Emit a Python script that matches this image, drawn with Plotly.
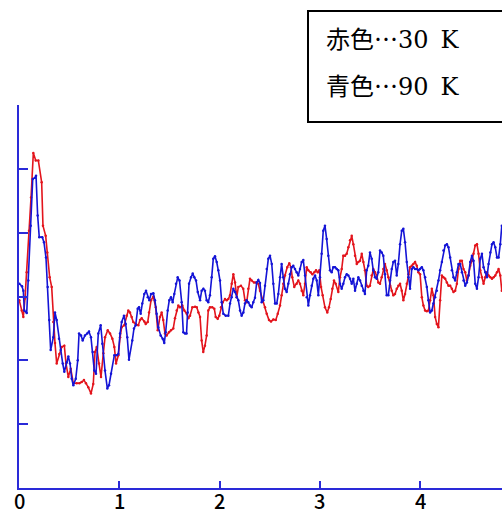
import plotly.graph_objects as go

# ---- data ----
red_x = [0.003,0.027,0.043,0.060,0.077,0.100,0.120,0.143,0.167,0.193,
0.226,0.239,0.266,0.282,0.306,0.326,0.342,0.359,0.376,0.402,
0.426,0.452,0.469,0.492,0.516,0.542,0.576,0.602,0.625,0.648,
0.668,0.691,0.718,0.741,0.758,0.775,0.798,0.818,0.841,0.858,
0.885,0.908,0.931,0.951,0.968,0.991,1.008,1.024,1.050,1.074,
1.090,1.107,1.124,1.140,1.164,1.190,1.207,1.224,1.250,1.264,
1.284,1.297,1.317,1.340,1.364,1.384,1.406,1.423,1.439,1.456,
1.473,1.496,1.516,1.539,1.556,1.573,1.589,1.606,1.629,1.649,
1.673,1.689,1.706,1.729,1.756,1.773,1.789,1.806,1.822,1.838,
1.855,1.872,1.888,1.905,1.928,1.948,1.962,1.982,1.998,2.015,
2.032,2.055,2.072,2.088,2.105,2.122,2.138,2.155,2.172,2.188,
2.214,2.237,2.254,2.271,2.287,2.304,2.321,2.344,2.364,2.387,
2.404,2.427,2.454,2.471,2.494,2.514,2.537,2.561,2.581,2.604,
2.620,2.636,2.653,2.676,2.696,2.713,2.726,2.746,2.770,2.786,
2.803,2.820,2.836,2.853,2.870,2.886,2.910,2.926,2.946,2.963,
2.980,2.996,3.013,3.029,3.052,3.075,3.092,3.109,3.125,3.142,
3.159,3.185,3.202,3.219,3.235,3.252,3.269,3.285,3.302,3.319,
3.335,3.352,3.369,3.385,3.402,3.419,3.435,3.451,3.468,3.484,
3.501,3.518,3.534,3.551,3.568,3.584,3.601,3.618,3.634,3.651,
3.668,3.684,3.701,3.718,3.734,3.751,3.768,3.784,3.801,3.818,
3.834,3.851,3.868,3.884,3.901,3.918,3.934,3.951,3.968,3.984,
4.001,4.018,4.034,4.051,4.068,4.084,4.101,4.118,4.134,4.151,
4.168,4.184,4.201,4.218,4.234,4.251,4.268,4.284,4.301,4.318,
4.334,4.351,4.368,4.384,4.401,4.418,4.434,4.451,4.468,4.484,
4.501,4.518,4.534,4.551,4.568,4.584,4.601,4.618,4.634,4.651,
4.668,4.684,4.701,4.718,4.734,4.751,4.768,4.784,4.801,4.816]

red_y = [2.94,2.78,2.68,2.97,3.38,4.03,4.55,5.25,5.13,5.13,
4.79,4.11,3.95,3.69,3.30,3.15,2.60,2.27,1.95,2.10,
2.21,2.23,1.95,1.74,1.87,1.64,1.64,1.64,1.66,1.69,
1.64,1.58,1.48,1.63,2.13,2.21,1.95,1.74,2.11,2.36,
2.47,2.42,2.34,2.21,1.95,2.08,2.36,2.52,2.55,2.70,
2.78,2.75,2.68,2.60,2.57,2.55,2.63,2.66,2.61,2.57,
2.60,2.75,2.94,3.00,2.83,2.47,2.68,2.75,2.63,2.42,
2.39,2.44,2.47,2.50,2.66,2.78,2.86,2.83,2.86,2.78,
2.73,2.66,2.70,2.83,2.84,2.83,2.75,2.68,2.31,2.13,
2.23,2.39,2.78,2.83,2.83,2.81,2.68,2.65,2.70,2.83,
2.91,2.96,2.94,2.96,3.02,3.20,3.35,3.22,2.99,3.15,
3.17,3.12,2.94,2.91,3.12,3.28,3.25,3.22,3.22,3.20,
3.09,2.96,2.83,2.73,2.63,2.61,2.64,2.63,2.73,2.86,
3.02,3.20,3.33,3.46,3.52,3.46,3.30,3.15,3.20,3.25,
3.20,3.09,3.02,3.20,3.46,3.41,3.38,3.35,3.38,3.41,
3.38,3.41,3.15,3.02,2.83,2.75,2.83,2.96,3.12,3.25,
3.20,3.07,3.30,3.43,3.64,3.64,3.67,3.77,3.88,3.95,
3.82,3.64,3.51,3.54,3.56,3.67,3.54,3.41,3.17,3.15,
3.17,3.33,3.43,3.38,3.33,3.22,3.20,3.30,3.43,3.51,
3.41,3.30,3.17,3.09,3.02,3.04,3.12,3.17,3.20,3.09,
2.94,3.04,3.20,3.35,3.46,3.48,3.51,3.54,3.48,3.38,
3.35,2.99,2.86,2.78,2.77,2.78,2.94,3.12,3.02,2.68,
2.57,2.52,2.94,3.33,3.30,3.28,3.22,3.17,3.17,3.12,
3.07,3.09,3.20,3.43,3.56,3.56,3.43,3.38,3.25,3.33,
3.48,3.56,3.67,3.80,3.82,3.67,3.41,3.30,3.20,3.30,
3.38,3.33,3.30,3.28,3.30,3.33,3.38,3.43,3.33,3.09]

blue_x = [0.003,0.030,0.043,0.053,0.077,0.093,0.117,0.137,0.160,0.170,
0.186,0.202,0.232,0.249,0.269,0.286,0.302,0.316,0.342,0.359,
0.376,0.399,0.416,0.436,0.452,0.476,0.492,0.509,0.526,0.542,
0.566,0.586,0.599,0.619,0.635,0.658,0.681,0.698,0.718,0.735,
0.751,0.768,0.791,0.815,0.831,0.858,0.881,0.898,0.918,0.951,
0.975,0.991,1.008,1.024,1.047,1.064,1.080,1.097,1.130,1.147,
1.164,1.184,1.197,1.214,1.230,1.250,1.267,1.284,1.300,1.317,
1.340,1.356,1.373,1.389,1.413,1.433,1.449,1.463,1.483,1.499,
1.516,1.533,1.549,1.566,1.583,1.601,1.623,1.639,1.656,1.671,
1.683,1.696,1.716,1.733,1.749,1.766,1.783,1.806,1.822,1.839,
1.855,1.872,1.888,1.905,1.922,1.938,1.955,1.972,1.988,2.005,
2.022,2.038,2.062,2.088,2.105,2.122,2.138,2.155,2.172,2.188,
2.205,2.221,2.238,2.254,2.271,2.287,2.304,2.321,2.337,2.354,
2.371,2.387,2.404,2.421,2.437,2.454,2.471,2.487,2.504,2.521,
2.537,2.554,2.571,2.587,2.604,2.620,2.636,2.653,2.670,2.686,
2.703,2.720,2.736,2.753,2.770,2.786,2.803,2.820,2.836,2.853,
2.870,2.886,2.903,2.920,2.936,2.953,2.970,2.986,3.002,3.019,
3.035,3.052,3.069,3.085,3.102,3.119,3.135,3.152,3.169,3.185,
3.202,3.219,3.235,3.252,3.269,3.285,3.302,3.319,3.335,3.352,
3.369,3.385,3.402,3.419,3.435,3.451,3.468,3.484,3.501,3.518,
3.534,3.551,3.568,3.584,3.601,3.618,3.634,3.651,3.668,3.684,
3.701,3.718,3.734,3.751,3.768,3.784,3.801,3.818,3.834,3.851,
3.868,3.884,3.901,3.918,3.934,3.951,3.968,3.984,4.001,4.018,
4.034,4.051,4.068,4.084,4.101,4.118,4.134,4.151,4.168,4.184,
4.201,4.218,4.234,4.251,4.268,4.284,4.301,4.318,4.334,4.351,
4.368,4.384,4.401,4.418,4.434,4.451,4.468,4.484,4.501,4.518,
4.534,4.551,4.568,4.584,4.601,4.618,4.634,4.651,4.668,4.684,
4.701,4.718,4.734,4.751,4.768,4.784,4.801,4.816]

blue_y = [3.20,3.16,3.09,2.78,2.74,3.25,4.11,4.84,4.86,4.89,
4.27,3.93,3.93,3.85,3.61,3.15,2.63,2.16,2.36,2.75,
2.63,2.34,2.16,1.95,1.82,1.97,2.06,1.95,1.71,1.61,
1.71,2.00,2.42,2.39,2.31,2.39,2.42,2.45,2.36,2.13,
1.84,1.79,2.42,2.55,2.26,1.84,1.56,1.61,1.79,2.08,
2.08,2.10,2.42,2.60,2.70,2.57,2.36,2.01,2.31,2.50,
2.55,2.81,2.83,2.73,2.89,3.04,3.09,2.99,2.94,3.04,
3.05,2.94,2.73,2.52,2.39,2.34,2.27,2.44,2.78,2.94,
2.99,2.91,3.04,3.20,3.30,3.25,2.91,2.44,2.42,2.42,
2.75,3.20,3.30,3.36,3.30,3.25,3.07,2.94,3.09,3.12,
3.09,2.94,2.91,3.02,3.30,3.59,3.63,3.54,3.41,3.25,
2.91,2.73,2.70,2.70,2.89,2.99,3.12,3.07,2.99,2.94,
2.78,2.70,2.75,2.89,2.94,2.91,2.86,2.83,2.91,2.98,
3.22,3.26,3.21,2.91,2.94,3.17,3.43,3.59,3.64,3.51,
3.20,2.89,2.89,3.04,3.30,3.51,3.30,3.12,3.07,3.20,
3.35,3.46,3.48,3.43,3.38,3.33,3.43,3.54,3.57,3.33,
2.99,2.86,3.02,3.17,3.28,3.33,3.25,3.02,3.30,3.67,
4.03,4.11,3.90,3.64,3.41,3.38,3.46,3.46,3.43,3.41,
3.20,3.12,3.20,3.30,3.35,3.33,3.28,3.20,3.28,3.09,
3.20,3.30,3.25,3.17,3.09,3.04,3.41,3.48,3.69,3.59,
3.41,3.30,3.28,3.38,3.72,3.69,3.64,3.35,3.02,3.02,
3.25,3.43,3.54,3.56,3.33,3.51,3.82,4.03,4.06,3.85,
3.54,3.30,3.12,3.43,3.46,3.43,3.43,3.41,3.43,3.46,
3.41,3.30,3.15,2.94,2.75,2.78,2.89,2.99,3.09,3.25,
3.41,3.54,3.72,3.80,3.82,3.77,3.61,3.41,3.30,3.25,
3.38,3.51,3.51,3.38,3.25,3.17,3.22,3.33,3.54,3.64,
3.56,3.20,3.12,3.30,3.59,3.67,3.46,3.38,3.30,3.51,
3.69,3.82,3.85,3.77,3.61,3.61,3.82,4.11]

x_tick_vals = [0, 1, 2, 3, 4]
x_tick_text = ["0", "1", "2", "3", "4"]
y_tick_vals = [0, 1, 2, 3, 4, 5, 6]
legend_names = ["赤色…", "青色…"]
legend_temps = ["30\u2002K", "90\u2002K"]

RED = "#e3141c"
BLUE = "#1414d6"
AXIS = "#2a2ad8"

fig = go.Figure()
fig.add_trace(go.Scatter(x=red_x, y=red_y, mode="lines+markers",
                         line=dict(color=RED, width=1.6),
                         marker=dict(color=RED, size=2.5), showlegend=False))
fig.add_trace(go.Scatter(x=blue_x, y=blue_y, mode="lines+markers",
                         line=dict(color=BLUE, width=1.6),
                         marker=dict(color=BLUE, size=2.5), showlegend=False))

W, H = 502, 513
L, R, T, B = 19, 0, 105, 25
pw, ph = W - L - R, H - T - B

def px(xp):
    return (xp - L) / pw

def py(yp):
    return (H - B - yp) / ph

CJK = "Noto Sans CJK JP"
SERIF = "DejaVu Serif"

def legend_text(i):
    return (f"<span style='font-family:{CJK}'>{legend_names[i]}</span>"
            f"<span style='font-family:{SERIF}'>{legend_temps[i]}</span>")

annotations = [
    dict(text=legend_text(0), xref="paper", yref="paper",
         x=px(324), y=py(37), xanchor="left", yanchor="middle",
         showarrow=False, font=dict(family=SERIF, size=24, color="black")),
    dict(text=legend_text(1), xref="paper", yref="paper",
         x=px(324), y=py(84), xanchor="left", yanchor="middle",
         showarrow=False, font=dict(family=SERIF, size=24, color="black")),
]
# x tick labels placed through the x axis scale (slightly tighter to the axis)
for v, t in zip(x_tick_vals, x_tick_text):
    annotations.append(dict(text=t, xref="x", yref="paper", x=v, y=py(499.5),
                            xanchor="center", yanchor="middle", showarrow=False,
                            height=20, valign="middle", borderpad=0,
                            font=dict(family=CJK, size=20, color="black", weight=500)))

fig.update_layout(
    width=W, height=H,
    margin=dict(l=L, r=R, t=T, b=B, pad=0),
    paper_bgcolor="white", plot_bgcolor="white",
    xaxis=dict(range=[0, 4.818], showgrid=False, zeroline=False,
               showline=True, linecolor=AXIS, linewidth=2,
               ticks="inside", ticklen=7, tickwidth=2, tickcolor=AXIS,
               tickvals=x_tick_vals, showticklabels=False,
               automargin=False),
    yaxis=dict(range=[0, 6], showgrid=False, zeroline=False,
               showline=True, linecolor=AXIS, linewidth=2,
               ticks="inside", ticklen=9, tickwidth=2, tickcolor=AXIS,
               tickvals=y_tick_vals, showticklabels=False,
               automargin=False),
    shapes=[dict(type="rect", xref="paper", yref="paper",
                 x0=px(308), x1=px(530), y0=py(122), y1=py(11),
                 line=dict(color="black", width=2), fillcolor="white",
                 layer="above")],
    annotations=annotations,
)

fig.write_html(
    "out.html",
    config={"displayModeBar": False},
    post_script="document.body.style.margin='0';document.body.style.overflow='hidden';",
)
